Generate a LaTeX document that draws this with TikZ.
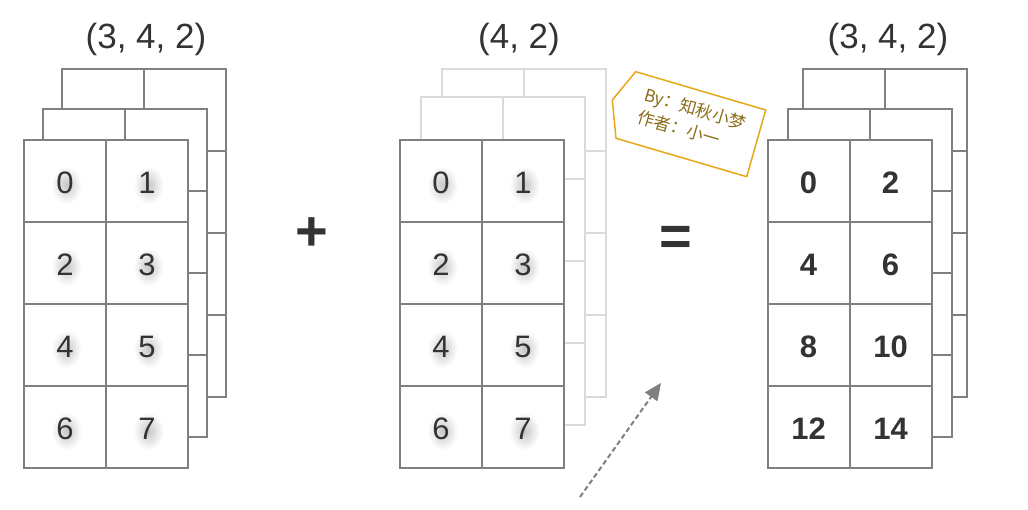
\documentclass[tikz,border=0pt]{standalone}
\usepackage{fontspec}
\setmainfont{Liberation Sans}
\newfontfamily\cjk{Noto Sans CJK SC}
\usetikzlibrary{arrows.meta,calc}
\definecolor{gridc}{RGB}{128,128,128}
\definecolor{lightc}{RGB}{218,218,218}
\definecolor{txtc}{RGB}{51,51,51}
\definecolor{tagc}{RGB}{230,168,23}
\definecolor{tagtxt}{RGB}{139,108,24}
\newcommand{\gridlayer}[3]{%
  \draw[#3, line width=2pt, fill=white] (#1,#2) rectangle ++(164,328);
  \draw[#3, line width=2pt] (#1+82,#2) -- ++(0,328);
  \foreach \k in {1,2,3} \draw[#3, line width=2pt] (#1,#2+82*\k) -- ++(164,0);
}
\newcommand{\frontcells}[3]{% prefix, x0, y0
  \foreach \r in {0,1,2,3} \foreach \c in {0,1}
    \node[cellbox] (#1\r\c) at (#2+41+82*\c,#3+41+82*\r) {};
}
\newcommand{\glow}[1]{% node name
  \shade[inner color=black!22, outer color=white] ($(#1)+(1.5,4)$) ellipse [x radius=15, y radius=19];
}
\tikzset{
  cellbox/.style={draw=gridc, line width=2pt, fill=white, minimum width=82pt, minimum height=82pt, inner sep=0pt},
  numtxt/.style={font=\fontsize{31}{31}\selectfont, text=txtc, inner sep=0pt},
  boldnum/.style={font=\fontsize{31}{31}\selectfont\bfseries, text=txtc, inner sep=0pt},
  shapelabel/.style={font=\fontsize{35}{35}\selectfont, text=txtc, inner sep=0pt},
  opsign/.style={font=\fontsize{56}{56}\selectfont\bfseries, text=txtc, inner sep=0pt},
}
\begin{document}
\begin{tikzpicture}[x=1pt,y=-1pt]
\useasboundingbox (0,0) rectangle (1028,510);
\fill[white] (0,0) rectangle (1028,510);
% labels
\node[shapelabel] (lab1) at (146,39) {(3, 4, 2)};
\node[shapelabel] (lab2) at (519,39) {(4, 2)};
\node[shapelabel] (lab3) at (888,39) {(3, 4, 2)};
% left stack
\gridlayer{61.5}{69}{gridc}
\gridlayer{43}{109}{gridc}
\frontcells{L}{24}{140}
% middle stack
\gridlayer{441.5}{69}{lightc}
\gridlayer{421}{97}{lightc}
\frontcells{M}{400}{140}
% right stack
\gridlayer{802.5}{69}{gridc}
\gridlayer{788}{109}{gridc}
\frontcells{R}{767.5}{140}
% glow behind numbers
\foreach \r in {0,1,2,3} \foreach \c in {0,1} {
  \glow{L\r\c}
  \glow{M\r\c}
}
\foreach \r/\c/\v in {0/0/0,0/1/1,1/0/2,1/1/3,2/0/4,2/1/5,3/0/6,3/1/7} {
  \node[numtxt] (nL\r\c) at ($(L\r\c)+(0,2)$) {\v};
  \node[numtxt] (nM\r\c) at ($(M\r\c)+(0,2)$) {\v};
}
\foreach \r/\c/\v in {0/0/0,0/1/2,1/0/4,1/1/6,2/0/8,2/1/10,3/0/12,3/1/14}
  \node[boldnum] (nR\r\c) at ($(R\r\c)+(0,2)$) {\v};
% operators
\node[opsign] (plus) at (312,234) {+};
\node[opsign] (eq) at (676,241) {=};
% tag
\coordinate (t1) at (635.7,71.7);
\coordinate (t2) at (765.7,110);
\coordinate (t3) at (746.7,176.7);
\coordinate (t4) at (616,138.3);
\coordinate (t5) at (612.3,100);
\draw[tagc, line width=1.5pt, line join=round, fill=white] (t1) -- (t2) -- (t3) -- (t4) -- (t5) -- cycle;
\node[rotate=-16.5, align=left, text=tagtxt, font=\cjk\fontsize{17}{23}\selectfont, inner sep=0pt] (tagtext) at (692,120)
  {By：知秋小梦\\作者：小一};
% arrow
\coordinate (as) at (580,497);
\coordinate (ae) at (661,383);
\draw[gridc, line width=2pt, dash pattern=on 5pt off 3pt, -{Triangle[length=17pt,width=15pt]}] (as) -- (ae);
\end{tikzpicture}
\end{document}
